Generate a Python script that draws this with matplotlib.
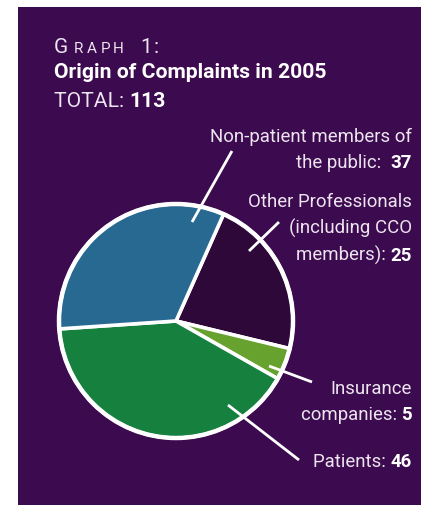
import matplotlib
matplotlib.use("Agg")
import matplotlib.pyplot as plt
from matplotlib.patches import Rectangle, Circle

# ---- data ----
categories = ["Other Professionals (including CCO members)", "Insurance companies",
              "Patients", "Non-patient members of the public"]
values = [25, 5, 46, 37]
colors = ["#2e0838", "#67a22f", "#16803f", "#276991"]
total = 113

# label blocks: (regular lines, bold value appended to last line)
label_lines = [
    (["Non-patient members of", "the public:  "], "37"),
    (["Other Professionals", "(including CCO", "members): "], "25"),
    (["Insurance", "companies: "], "5"),
    (["Patients: "], "46"),
]

# ---- layout (pixel coords, y measured from top) ----
W, H = 421, 506
BG = "#3c0a4e"
TXT = "#ece4ef"
FONT = "Roboto"
label_baselines = [[142, 168], [207, 234, 261], [394, 420], [467]]
label_right = 412
leaders = [((232, 152), (192, 223)),
           ((279, 223), (249, 252)),
           ((312, 383), (269, 367)),
           ((299, 461), (228, 406))]
pie_cx, pie_cy, pie_r = 176, 322, 117

fig = plt.figure(figsize=(W / 100, H / 100), dpi=100)
fig.patch.set_facecolor("white")
ax = fig.add_axes([0, 0, 1, 1])
ax.set_axis_off()

def Y(y):
    return H - y

ax.add_patch(Rectangle((18, 0), W - 18, H - 8, facecolor=BG, edgecolor="none", zorder=0))

wedges, _ = ax.pie(values, colors=colors, startangle=66, counterclock=False,
                   center=(pie_cx, Y(pie_cy)), radius=pie_r,
                   wedgeprops=dict(edgecolor="white", linewidth=2.6, joinstyle="miter"))
ax.add_patch(Circle((pie_cx, Y(pie_cy)), pie_r, facecolor="none", edgecolor="white",
                    linewidth=3.2, zorder=5))

ax.set_xlim(0, W)
ax.set_ylim(0, H)
ax.set_aspect("equal")

for (p0, p1) in leaders:
    ax.plot([p0[0], p1[0]], [Y(p0[1]), Y(p1[1])], color="white", lw=2.0,
            solid_capstyle="butt", zorder=6)

renderer = fig.canvas.get_renderer()
LS = 13.4
for (lines, num), bls in zip(label_lines, label_baselines):
    for i, (ln, bl) in enumerate(zip(lines, bls)):
        if i == len(lines) - 1:
            t = ax.text(label_right, Y(bl), num, ha="right", va="baseline", fontsize=LS,
                        fontweight="bold", color="white", family=FONT, zorder=7)
            bb = t.get_window_extent(renderer)
            ax.text(bb.x0, Y(bl), ln, ha="right", va="baseline", fontsize=LS,
                    color=TXT, family=FONT, zorder=7)
        else:
            ax.text(label_right, Y(bl), ln, ha="right", va="baseline", fontsize=LS,
                    color=TXT, family=FONT, zorder=7)

# title "GRAPH 1:" in spaced small caps
title_chars = [("G", 54, 15), ("R", 74, 11), ("A", 87, 11), ("P", 101, 11),
               ("H", 113, 11), ("1", 140, 15), (":", 154, 15)]
for ch, x, fs in title_chars:
    ax.text(x, Y(53), ch, ha="left", va="baseline", fontsize=fs, color=TXT,
            family=FONT)

ax.text(54, Y(78), "Origin of Complaints in 2005", ha="left", va="baseline",
        fontsize=15.2, fontweight="bold", color="white", family=FONT)
t = ax.text(54, Y(107), "TOTAL: ", ha="left", va="baseline", fontsize=15.2,
            color=TXT, family=FONT)
bb = t.get_window_extent(renderer)
ax.text(bb.x1, Y(107), str(total), ha="left", va="baseline", fontsize=15.2,
        fontweight="bold", color="white", family=FONT)

fig.savefig("out.png", dpi=100, facecolor="white")
